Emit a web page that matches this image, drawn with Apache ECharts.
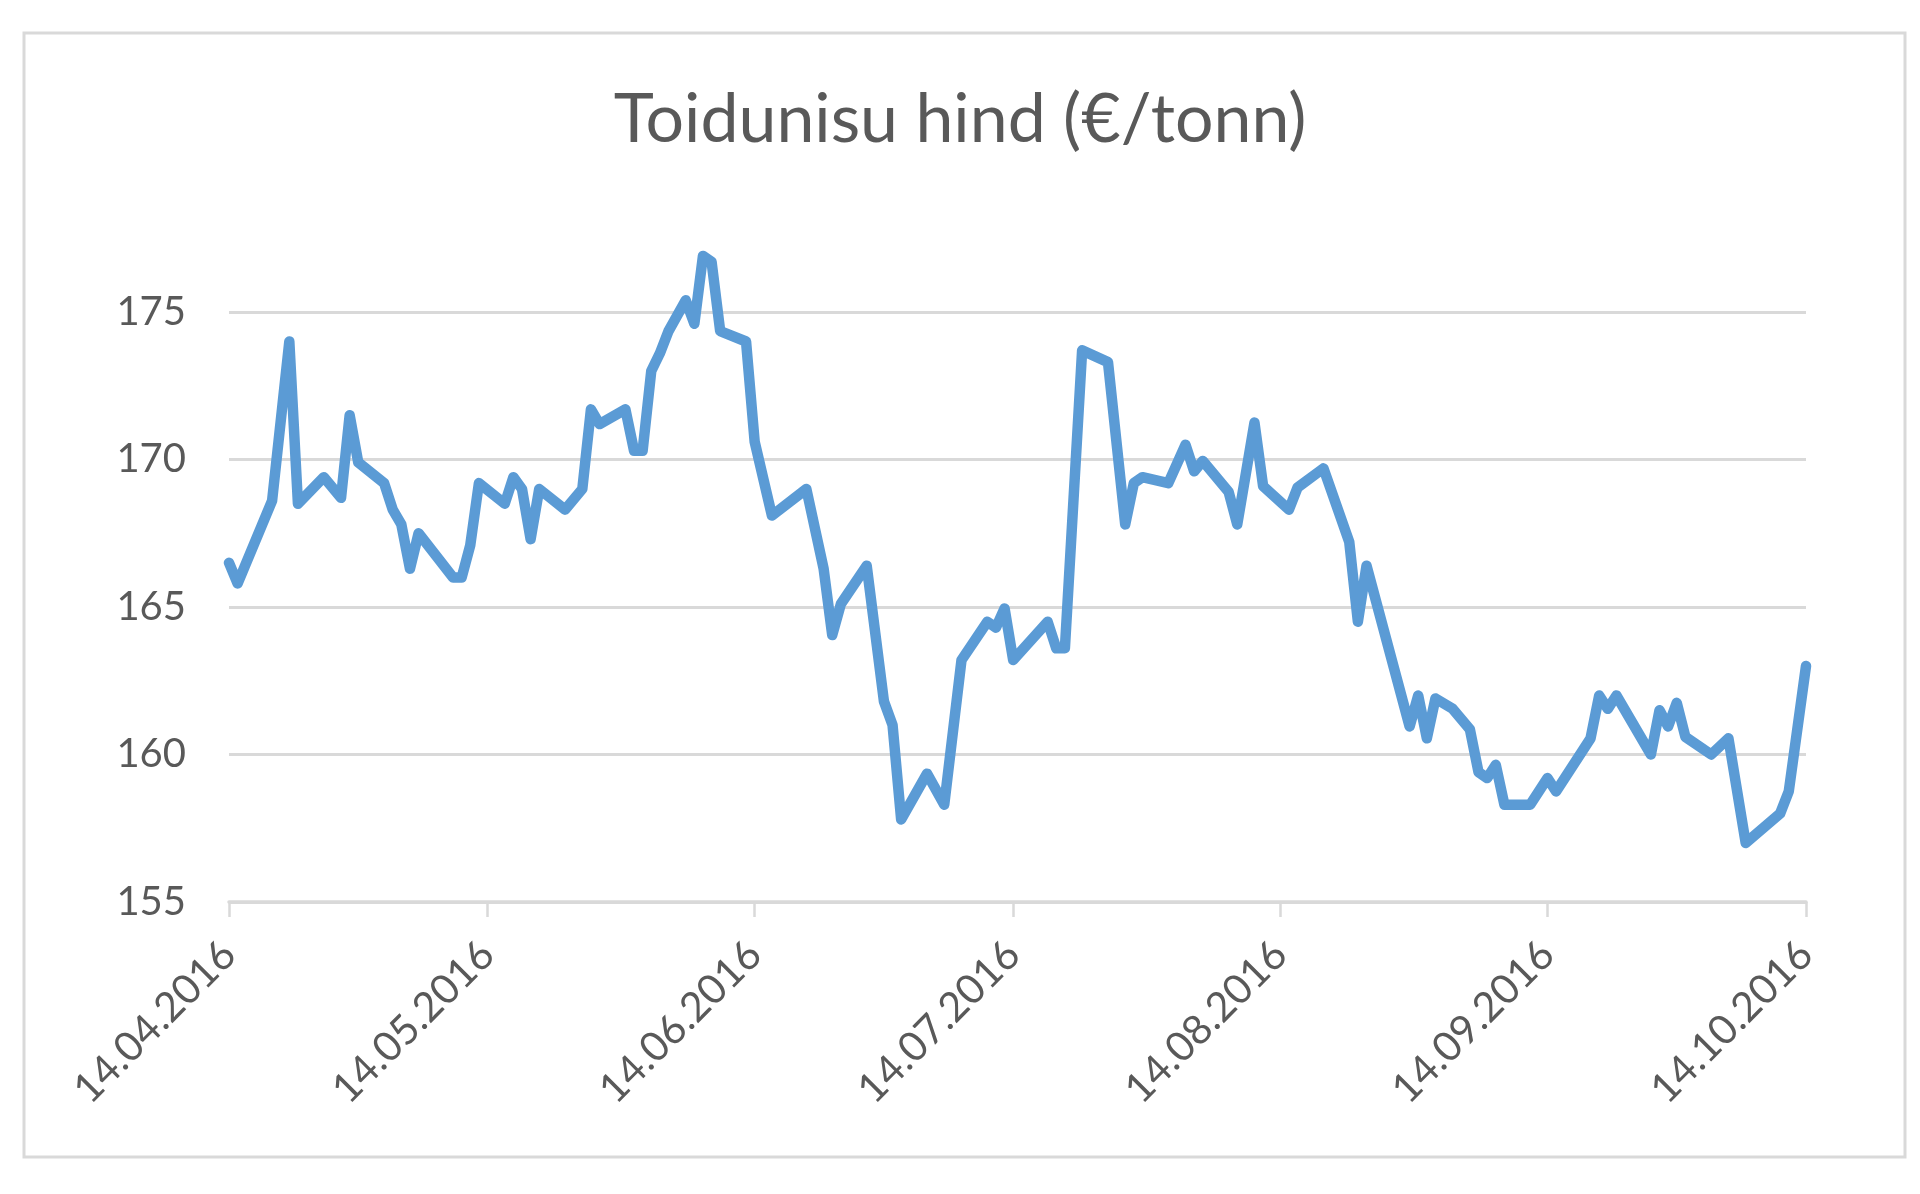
<!DOCTYPE html>
<html>
<head>
<meta charset="utf-8">
<style>
  html, body { margin: 0; padding: 0; background: #ffffff; }
  #chart { width: 1920px; height: 1194px; }
</style>
<script src="https://cdn.jsdelivr.net/npm/echarts@6/dist/echarts.min.js"></script>
</head>
<body>
<div id="chart"></div>
<script>
// ---- data ----
const titleText = 'Toidunisu hind (€/tonn)';

const dates = [
  '14.04.2016','15.04.2016','19.04.2016','21.04.2016','22.04.2016','25.04.2016','27.04.2016','28.04.2016','29.04.2016',
  '02.05.2016','03.05.2016','04.05.2016','05.05.2016','06.05.2016','10.05.2016','11.05.2016','12.05.2016','13.05.2016',
  '16.05.2016','17.05.2016','18.05.2016','19.05.2016','20.05.2016','23.05.2016','25.05.2016','26.05.2016','27.05.2016',
  '30.05.2016','31.05.2016','01.06.2016','02.06.2016','03.06.2016','04.06.2016','06.06.2016','07.06.2016','08.06.2016',
  '09.06.2016','10.06.2016','13.06.2016','14.06.2016','16.06.2016','20.06.2016','22.06.2016','23.06.2016','24.06.2016',
  '27.06.2016','29.06.2016','30.06.2016','01.07.2016','04.07.2016','06.07.2016','08.07.2016','11.07.2016','12.07.2016',
  '13.07.2016','14.07.2016','18.07.2016','19.07.2016','20.07.2016','22.07.2016','25.07.2016','27.07.2016','28.07.2016',
  '29.07.2016','01.08.2016','03.08.2016','04.08.2016','05.08.2016','08.08.2016','09.08.2016','11.08.2016','12.08.2016',
  '15.08.2016','16.08.2016','19.08.2016','22.08.2016','23.08.2016','24.08.2016','29.08.2016','30.08.2016','31.08.2016',
  '01.09.2016','03.09.2016','05.09.2016','06.09.2016','07.09.2016','08.09.2016','09.09.2016','12.09.2016','14.09.2016',
  '15.09.2016','19.09.2016','20.09.2016','21.09.2016','22.09.2016','26.09.2016','27.09.2016','28.09.2016','29.09.2016',
  '30.09.2016','03.10.2016','05.10.2016','07.10.2016','11.10.2016','12.10.2016','14.10.2016'
];

const prices = [
  166.5,165.8,168.6,174.0,168.5,169.4,168.7,171.5,169.9,
  169.2,168.3,167.8,166.3,167.5,166.0,166.0,167.1,169.2,
  168.5,169.4,169.0,167.3,169.0,168.3,169.0,171.7,171.2,
  171.7,170.3,170.3,173.0,173.6,174.35,175.4,174.6,176.9,
  176.7,174.35,174.0,170.6,168.1,169.0,166.3,164.05,165.1,
  166.4,161.8,161.0,157.8,159.35,158.3,163.2,164.5,164.3,
  164.95,163.2,164.5,163.6,163.6,173.7,173.3,167.8,169.2,
  169.4,169.2,170.5,169.6,169.95,168.9,167.8,171.25,169.1,
  168.3,169.05,169.7,167.2,164.5,166.4,160.95,162.0,160.55,
  161.9,161.55,160.85,159.4,159.2,159.65,158.3,158.3,159.2,
  158.75,160.55,162.0,161.55,162.0,160.0,161.5,160.95,161.75,
  160.6,160.0,160.55,157.0,158.0,158.75,163.0
];

const tickLabels = ['14.04.2016','14.05.2016','14.06.2016','14.07.2016','14.08.2016','14.09.2016','14.10.2016'];
const yTicks = [155, 160, 165, 170, 175];

// ---- calendar axis (one category per day, so months keep their true widths) ----
function fmt(d) {
  const dd = String(d.getDate()).padStart(2, '0');
  const mm = String(d.getMonth() + 1).padStart(2, '0');
  return dd + '.' + mm + '.' + d.getFullYear();
}
const days = [];
{
  const d = new Date(2016, 3, 14);
  const end = new Date(2016, 9, 14);
  while (d <= end) { days.push(fmt(d)); d.setDate(d.getDate() + 1); }
}
const priceByDate = {};
dates.forEach((d, i) => { priceByDate[d] = prices[i]; });
const seriesData = days.map(d => (d in priceByDate ? priceByDate[d] : null));
const isTick = (idx, val) => tickLabels.indexOf(val) >= 0;

const labelColor = '#595959';
const gridColor = '#d9d9d9';
const font = 'Lato, "Open Sans", sans-serif';

const chart = echarts.init(document.getElementById('chart'), null, { renderer: 'canvas' });
chart.setOption({
  animation: false,
  backgroundColor: '#ffffff',
  title: {
    text: titleText,
    left: 'center',
    top: 81,
    textStyle: { fontFamily: font, fontSize: 68, fontWeight: 'normal', color: labelColor }
  },
  graphic: [{
    type: 'rect',
    shape: { x: 24, y: 33, width: 1881, height: 1124 },
    style: { fill: 'none', stroke: gridColor, lineWidth: 3 },
    silent: true,
    z: -1
  }],
  grid: {
    left: 229,
    right: 114,
    top: 312,
    bottom: 292,
    outerBoundsMode: 'none'
  },
  xAxis: {
    type: 'category',
    data: days,
    boundaryGap: false,
    axisLine: { show: true, lineStyle: { color: gridColor, width: 3.5 } },
    axisTick: { show: true, interval: isTick, length: 15, lineStyle: { color: gridColor, width: 2.5 } },
    axisLabel: {
      interval: isTick,
      rotate: 45,
      margin: 46,
      fontFamily: font,
      fontSize: 41,
      color: labelColor
    },
    splitLine: { show: false }
  },
  yAxis: {
    type: 'value',
    min: yTicks[0],
    max: yTicks[yTicks.length - 1],
    interval: 5,
    axisLine: { show: false },
    axisTick: { show: false },
    axisLabel: { margin: 43, fontFamily: font, fontSize: 40, color: labelColor },
    splitLine: { show: true, lineStyle: { color: gridColor, width: 3 } }
  },
  series: [{
    type: 'line',
    data: seriesData,
    connectNulls: true,
    showSymbol: false,
    clip: false,
    lineStyle: { color: '#5b9bd5', width: 10.5, cap: 'round', join: 'round' },
    z: 3
  }]
});
</script>
</body>
</html>
